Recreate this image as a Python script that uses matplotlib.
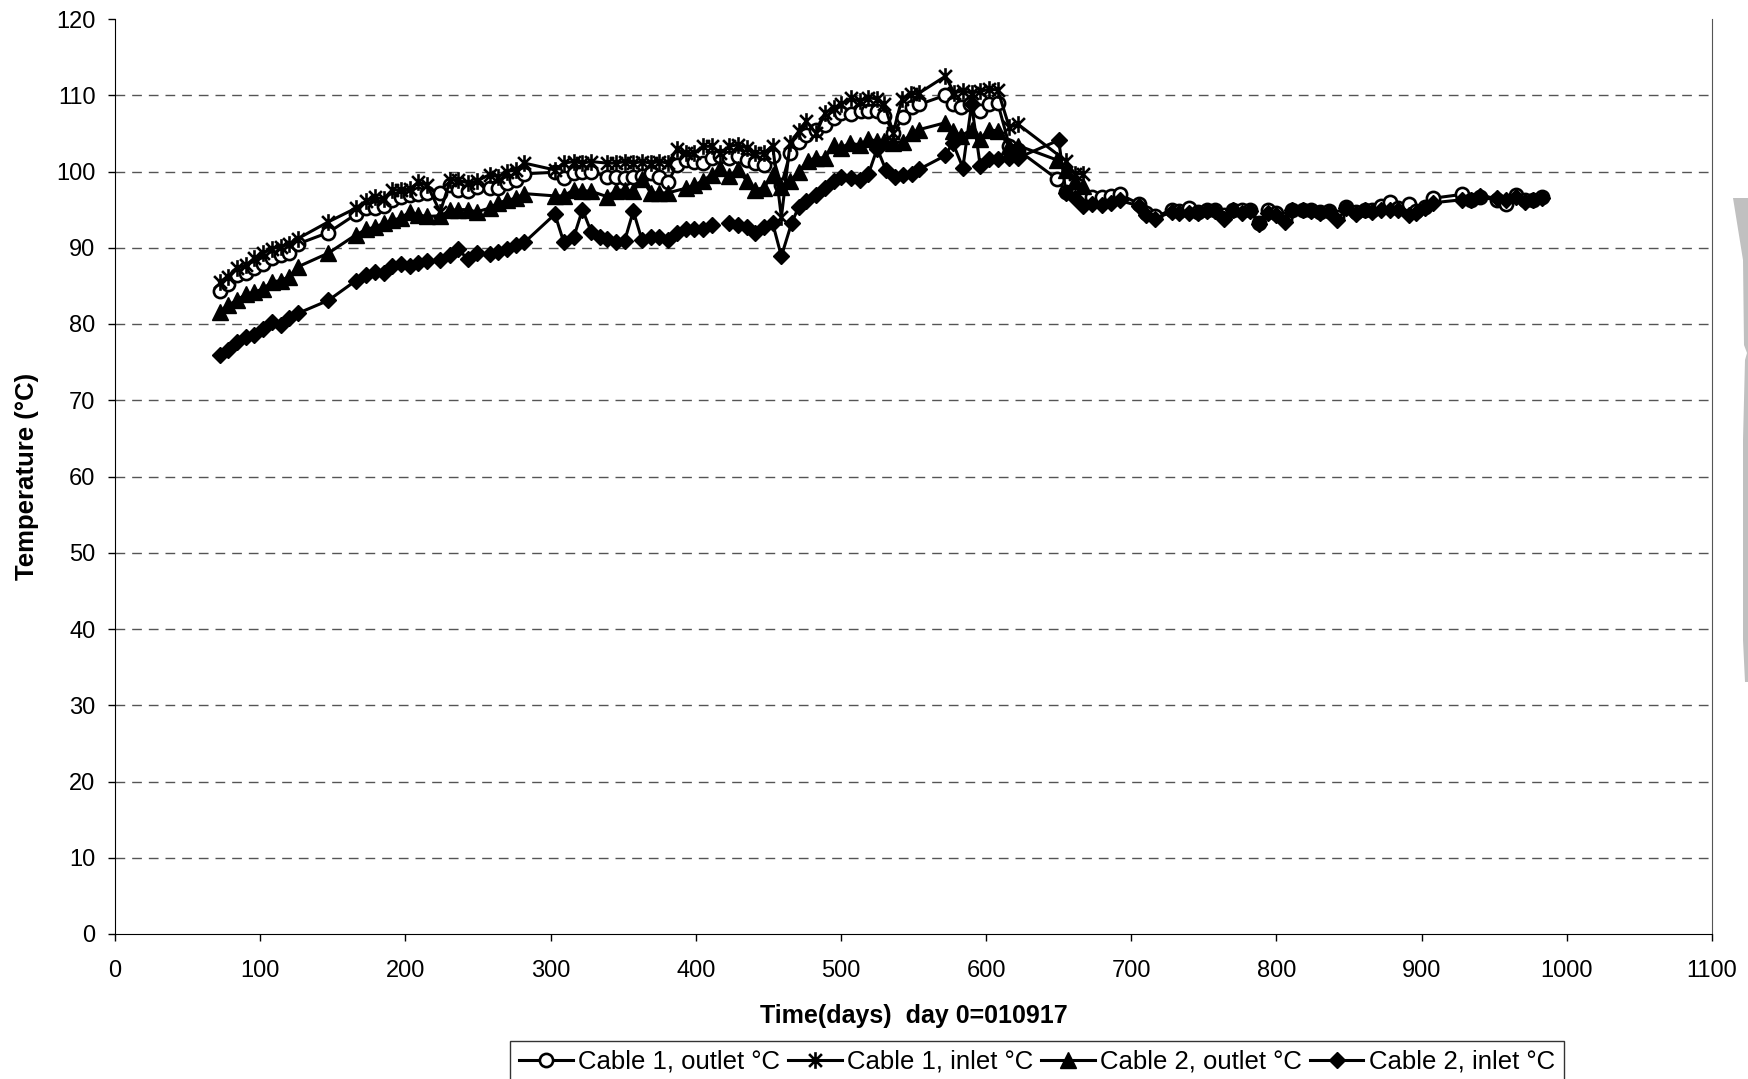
import numpy as np
import matplotlib
matplotlib.use("Agg")
from matplotlib import pyplot as plt
from matplotlib.path import Path
from matplotlib.patches import Polygon

plt.rcParams['font.family'] = ['Liberation Sans', 'DejaVu Sans']

# Cable 1, outlet
c1_out_days = [72, 78, 84, 90, 96, 102, 108, 114, 120, 126, 147, 166, 173, 179, 185, 191, 197, 203,
               209, 215, 224, 231, 236, 243, 249, 258, 264, 270, 276, 282, 303, 309, 316, 322, 328,
               339, 345, 351, 357, 363, 369, 375, 381, 387, 393, 399, 405, 411, 417, 423, 429, 435,
               441, 447, 453, 459, 465, 471, 476, 483, 489, 495, 500, 507, 514, 519, 525, 530, 536,
               543, 549, 554, 572, 577, 583, 589, 596, 602, 608, 616, 622, 649, 655, 661, 667, 673,
               680, 686, 692, 705, 710, 716, 728, 733, 740, 746, 752, 758, 764, 770, 776, 782, 788,
               794, 800, 806, 811, 818, 824, 830, 836, 842, 848, 855, 861, 866, 872, 878, 884, 891,
               896, 902, 908, 928, 934, 940, 952, 958, 965, 971, 977, 983]
c1_out = [84.3, 85.2, 86.4, 86.7, 87.4, 87.9, 88.6, 89.0, 89.3, 90.5, 92.0, 94.4, 95.2, 95.2, 95.5,
          96.2, 96.6, 96.9, 97.1, 97.2, 97.2, 98.2, 97.6, 97.4, 98.0, 97.9, 97.9, 98.5, 98.9, 99.7,
          99.9, 99.1, 99.8, 100.0, 100.0, 99.3, 99.3, 99.1, 99.3, 99.4, 99.8, 99.3, 98.6, 100.9,
          101.5, 101.3, 101.1, 101.8, 102.0, 101.8, 102.0, 101.5, 101.1, 100.9, 102.0, 98.2, 102.4,
          103.9, 104.8, 105.5, 106.1, 107.0, 107.7, 107.5, 107.9, 107.9, 107.9, 107.3, 105.1, 107.1,
          108.4, 108.8, 110.0, 108.8, 108.4, 108.8, 107.9, 108.8, 109.0, 103.4, 102.8, 99.0, 97.3,
          96.9, 96.7, 96.6, 96.6, 96.8, 97.0, 95.8, 94.5, 94.1, 94.9, 94.8, 95.2, 94.7, 95.0, 95.0,
          94.3, 95.0, 95.0, 95.0, 93.3, 94.9, 94.5, 93.8, 95.0, 95.0, 94.9, 94.7, 94.8, 94.0, 95.3,
          94.7, 95.0, 95.0, 95.5, 96.0, 95.2, 95.7, 94.8, 95.4, 96.5, 97.0, 96.2, 96.6, 96.3, 95.8,
          96.9, 96.2, 96.3, 96.7]

# Cable 1, inlet
c1_in_days = [72, 78, 84, 90, 96, 102, 108, 114, 120, 126, 147, 166, 173, 179, 185, 191, 197, 203,
              209, 215, 224, 231, 236, 243, 249, 258, 264, 270, 276, 282, 303, 309, 316, 322, 328,
              339, 345, 351, 357, 363, 369, 375, 381, 387, 393, 399, 405, 411, 417, 423, 429, 435,
              441, 447, 453, 459, 465, 471, 476, 483, 489, 495, 500, 507, 513, 519, 525, 530, 536,
              542, 548, 554, 572, 578, 584, 590, 596, 602, 608, 616, 622, 655, 661, 667]
c1_in = [85.5, 86.2, 87.4, 87.7, 88.6, 89.3, 89.9, 90.1, 90.5, 91.2, 93.4, 95.2, 96.1, 96.6, 96.4,
         97.6, 97.6, 97.7, 98.6, 98.2, 94.7, 98.9, 98.9, 98.5, 98.7, 99.6, 99.3, 100.0, 100.2, 101.1,
         100.2, 101.1, 101.3, 101.1, 101.3, 101.1, 101.1, 101.3, 101.1, 101.3, 101.1, 101.3, 101.1,
         102.9, 102.4, 102.4, 103.3, 103.3, 102.4, 103.3, 103.5, 103.1, 102.4, 102.4, 103.4, 94.0,
         103.7, 105.3, 106.6, 105.0, 107.7, 108.3, 108.8, 109.6, 109.2, 109.7, 109.5, 108.8, 105.1,
         109.5, 110.1, 110.3, 112.5, 110.3, 110.6, 110.3, 110.5, 110.8, 110.7, 105.8, 106.2, 101.4,
         99.7, 99.7]

# Cable 2, outlet
c2_out_days = [72, 78, 84, 90, 96, 102, 108, 114, 120, 126, 147, 166, 173, 179, 185, 191, 197, 203,
               209, 215, 224, 231, 236, 243, 249, 258, 264, 270, 276, 282, 303, 309, 316, 322, 328,
               339, 345, 351, 357, 363, 369, 375, 381, 393, 399, 405, 411, 417, 423, 429, 435, 441,
               447, 453, 459, 465, 471, 477, 483, 489, 495, 500, 506, 513, 519, 525, 530, 536, 543,
               549, 554, 572, 577, 583, 590, 596, 602, 608, 616, 622, 649, 655, 661, 667]
c2_out = [81.6, 82.5, 83.1, 83.9, 84.2, 84.6, 85.5, 85.7, 86.2, 87.5, 89.3, 91.7, 92.4, 92.7, 93.2,
          93.6, 93.9, 94.7, 94.3, 94.1, 94.2, 94.9, 95.0, 95.0, 94.7, 95.2, 95.9, 96.2, 96.5, 97.1,
          96.8, 96.8, 97.6, 97.5, 97.4, 96.7, 97.5, 97.6, 97.4, 99.0, 97.2, 97.2, 97.2, 97.8, 98.2,
          98.8, 99.6, 100.4, 99.4, 100.3, 98.8, 97.6, 97.9, 99.6, 98.0, 98.7, 100.0, 101.4, 101.8,
          101.8, 103.5, 103.1, 103.7, 103.5, 104.2, 104.0, 104.0, 103.8, 103.9, 105.1, 105.5, 106.4,
          105.3, 104.7, 105.5, 104.2, 105.5, 105.3, 103.4, 103.4, 101.5, 100.2, 98.7, 98.1]

# Cable 2, inlet (nan = missing reading)
c2_in_days = [72, 78, 84, 90, 96, 102, 108, 114, 120, 126, 147, 166, 173, 179, 185, 191, 197, 203,
              209, 215, 224, 231, 236, 243, 249, 258, 264, 270, 276, 282, 303, 309, 316, 322, 328,
              334, 339, 345, 351, 357, 363, 369, 375, 381, 387, 393, 399, 405, 411, 417, 423, 429,
              435, 441, 447, 453, 459, 466, 471, 476, 483, 489, 495, 500, 507, 513, 519, 525, 531,
              537, 543, 549, 554, 572, 577, 584, 590, 596, 602, 608, 616, 622, 650, 655, 661, 667,
              673, 680, 686, 692, 705, 710, 716, 728, 733, 740, 746, 752, 758, 764, 770, 776, 782,
              788, 794, 800, 806, 811, 818, 824, 830, 836, 842, 848, 855, 861, 866, 872, 878, 884,
              891, 896, 902, 908, 928, 934, 940, 952, 958, 965, 971, 977, 983]
c2_in = [75.9, 76.6, 77.6, 78.3, 78.6, 79.3, 80.3, 79.9, 80.8, 81.4, 83.1, 85.7, 86.4, 86.8, 86.7,
         87.6, 87.9, 87.6, 88.0, 88.2, 88.4, 89.0, 89.9, 88.5, 89.3, 89.2, 89.5, 89.9, 90.4, 90.7,
         94.4, 90.8, 91.4, 95.0, 92.1, 91.4, 91.2, 90.8, 90.9, 94.8, 91.0, 91.4, 91.4, 91.0, 91.9,
         92.5, 92.5, 92.5, 93.0, np.nan, 93.2, 93.0, 92.7, 92.0, 92.7, 93.2, 88.9, 93.2, 95.4, 96.1,
         96.9, 97.9, 98.7, 99.3, 99.1, 98.9, 99.7, 103.0, 100.2, 99.3, 99.5, 99.7, 100.3, 102.1,
         103.8, 100.5, 108.8, 100.7, 101.6, 101.6, 101.8, 101.8, 104.1, 97.2, 96.5, 95.5, 95.7,
         95.6, 95.9, 96.2, 95.5, 94.3, 93.8, 94.7, 94.6, 94.6, 94.5, 94.8, 94.8, 93.8, 94.9, 94.5,
         94.8, 93.1, 94.6, 94.3, 93.4, 94.9, 94.9, 94.8, 94.6, 94.7, 93.6, 95.2, 94.4, 95.0, 94.7,
         94.9, 94.9, 95.0, 94.3, 94.5, 95.2, 95.9, 96.3, 96.3, 96.8, 96.5, 96.3, 96.7, 96.0, 96.3,
         96.5]

# Excel-style star marker: an x with a vertical bar
star = Path([(-1, -1), (1, 1), (-1, 1), (1, -1), (0, -1.3), (0, 1.3)],
            [Path.MOVETO, Path.LINETO, Path.MOVETO, Path.LINETO, Path.MOVETO, Path.LINETO])

W, H = 1749, 1079
fig = plt.figure(figsize=(W / 100, H / 100), dpi=100)
ax = fig.add_axes([115 / W, 1 - 934 / H, (1712 - 115) / W, (934 - 19) / H])

ax.plot(c1_out_days, c1_out, color='black', lw=2.2, marker='o', ms=9.5, mfc='white', mec='black',
        mew=1.9, label='Cable 1, outlet °C')
ax.plot(c1_in_days, c1_in, color='black', lw=2.2, marker=star, ms=12, mfc='none', mec='black',
        mew=1.9, label='Cable 1, inlet °C')
ax.plot(c2_out_days, c2_out, color='black', lw=2.2, marker='^', ms=11, mfc='black', mec='black',
        label='Cable 2, outlet °C')
ax.plot(c2_in_days, c2_in, color='black', lw=2.2, marker='D', ms=8.2, mfc='black', mec='black',
        label='Cable 2, inlet °C')

ax.set_xlim(0, 1100)
ax.set_ylim(0, 120)
ax.set_xticks(np.arange(0, 1101, 100))
ax.set_yticks(np.arange(0, 121, 10))
ax.tick_params(labelsize=17, length=5, width=1, color='black')
ax.tick_params(axis='x', pad=13.5)
ax.tick_params(axis='y', pad=9)
# dashed gridlines from 10 to 110 only (none on the top edge)
for yv in range(10, 120, 10):
    ax.axhline(yv, linestyle=(0, (7, 5)), color='#555555', lw=1, zorder=0)

ax.spines['top'].set_visible(False)
ax.spines['right'].set_color('#555555')
ax.spines['left'].set_color('black')
ax.spines['bottom'].set_color('black')

ax.set_xlabel('Time(days)  day 0=010917', fontsize=18, fontweight='bold', va='center')
ax.set_ylabel('Temperature (°C)', fontsize=18.5, fontweight='bold', va='center')
ax.xaxis.set_label_coords(0.5, (934 - 1016) / 915)
ax.yaxis.set_label_coords((27 - 115) / 1597, 0.5)

leg = ax.legend(loc='upper left', bbox_to_anchor=(510 / W, 1 - 1041 / H),
                bbox_transform=fig.transFigure, ncol=4, fontsize=18.5, frameon=True,
                fancybox=False, edgecolor='black', handlelength=2.1, handletextpad=0.2,
                columnspacing=0.3, borderpad=0.35, borderaxespad=0)
leg.get_frame().set_linewidth(1)

# grey scrap at the right edge of the scan
edge = [(1733, 198), (1749, 198), (1749, 682), (1745, 682), (1743, 640), (1743, 440),
        (1745, 360), (1747, 353), (1744, 345), (1743, 260)]
fig.patches.append(Polygon([(x / W, 1 - y / H) for x, y in edge], closed=True,
                           transform=fig.transFigure, facecolor='#c0c0c0', edgecolor='none'))

fig.savefig('out.png', dpi=100)
